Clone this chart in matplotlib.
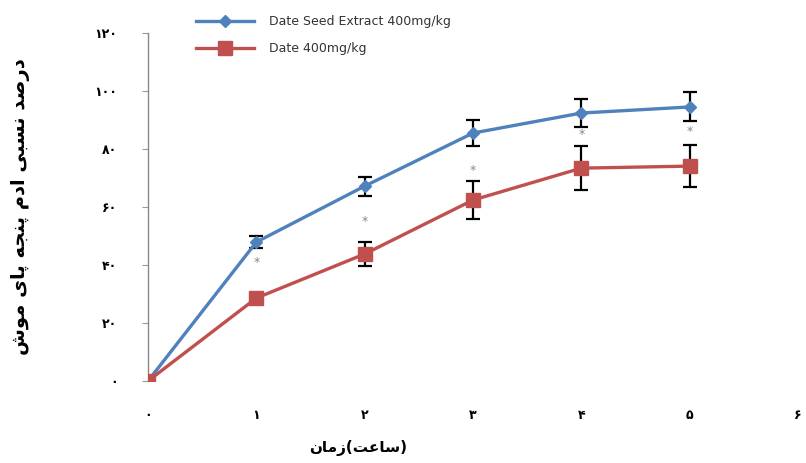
import matplotlib
matplotlib.use("Agg")
import matplotlib.pyplot as plt
from matplotlib.lines import Line2D

# ---------------- data ----------------
hours = [0, 1, 2, 3, 4, 5]
extract_vals = [0, 47.9, 67.2, 85.5, 92.4, 94.5]
extract_err = [0, 2.0, 3.3, 4.5, 4.8, 5.0]
date_vals = [0, 28.6, 43.8, 62.4, 73.4, 74.1]
date_err = [0, 1.2, 4.0, 6.4, 7.7, 7.3]
series_names = ["Date Seed Extract 400mg/kg", "Date 400mg/kg"]
x_ticks = [0, 1, 2, 3, 4, 5, 6]
y_ticks = [0, 20, 40, 60, 80, 100, 120]
star_hours = [1, 2, 3, 4, 5]
star_levels = [40.7, 55.0, 72.7, 85.0, 86.0]

# ------------- Persian shaping helpers -------------
FORMS = {
    'ا': (0xFE8D, 0xFE8E, None, None),
    'ب': (0xFE8F, 0xFE90, 0xFE91, 0xFE92),
    'ت': (0xFE95, 0xFE96, 0xFE97, 0xFE98),
    'ج': (0xFE9D, 0xFE9E, 0xFE9F, 0xFEA0),
    'د': (0xFEA9, 0xFEAA, None, None),
    'ر': (0xFEAD, 0xFEAE, None, None),
    'ز': (0xFEAF, 0xFEB0, None, None),
    'س': (0xFEB1, 0xFEB2, 0xFEB3, 0xFEB4),
    'ش': (0xFEB5, 0xFEB6, 0xFEB7, 0xFEB8),
    'ص': (0xFEB9, 0xFEBA, 0xFEBB, 0xFEBC),
    'ع': (0xFEC9, 0xFECA, 0xFECB, 0xFECC),
    'م': (0xFEE1, 0xFEE2, 0xFEE3, 0xFEE4),
    'ن': (0xFEE5, 0xFEE6, 0xFEE7, 0xFEE8),
    'ه': (0xFEE9, 0xFEEA, 0xFEEB, 0xFEEC),
    'و': (0xFEED, 0xFEEE, None, None),
    'پ': (0xFB56, 0xFB57, 0xFB58, 0xFB59),
    'ی': (0xFBFC, 0xFBFD, 0xFBFE, 0xFBFF),
}


def shape_word(w):
    out = []
    n = len(w)
    for i, ch in enumerate(w):
        if ch not in FORMS:
            out.append(ch)
            continue
        iso, fin, ini, med = FORMS[ch]
        prev = w[i - 1] if i > 0 else None
        nxt = w[i + 1] if i < n - 1 else None
        joins_prev = prev in FORMS and FORMS[prev][2] is not None
        joins_next = nxt in FORMS and ini is not None
        if joins_prev and joins_next:
            code = med
        elif joins_prev:
            code = fin
        elif joins_next:
            code = ini
        else:
            code = iso
        out.append(chr(code))
    return ''.join(reversed(out))


def rtl(sentence):
    return ' '.join(shape_word(w) for w in reversed(sentence.split(' ')))


def fa_digits(v):
    return ''.join(chr(0x06F0 + int(c)) for c in str(v))


ylabel = rtl("درصد نسبی ادم پنجه پای موش")
xlabel = shape_word("زمان") + "(" + shape_word("ساعت") + ")"

# ---------------- figure ----------------
plt.rcParams['font.family'] = ['DejaVu Sans']
fig = plt.figure(figsize=(8.06, 4.63), dpi=100)
ax = fig.add_axes([148 / 806, (463 - 381) / 463, 650 / 806, 348 / 463])

blue = '#4F81BD'
red = '#C0504D'

ax.errorbar(hours, extract_vals, yerr=extract_err, color=blue, lw=2.4,
            marker='D', ms=6, mfc=blue, mec=blue, ecolor='black',
            elinewidth=1.6, capsize=5, capthick=1.6, zorder=3)
ax.errorbar(hours, date_vals, yerr=date_err, color=red, lw=2.4,
            marker='s', ms=10, mfc=red, mec=red, ecolor='black',
            elinewidth=1.6, capsize=5, capthick=1.6, zorder=3)

for h, lvl in zip(star_hours, star_levels):
    ax.text(h, lvl, '*', ha='center', va='center', fontsize=9,
            color='#888888')

ax.set_xlim(0, 6)
ax.set_ylim(0, 120)
ax.set_xticks(x_ticks)
ax.set_xticklabels([fa_digits(v) for v in x_ticks], fontsize=9,
                   fontweight='bold')
ax.set_yticks(y_ticks)
ax.set_yticklabels([fa_digits(v) for v in y_ticks], fontsize=9,
                   fontweight='bold')
ax.tick_params(axis='x', length=0, pad=20)
ax.tick_params(axis='y', length=4, pad=18, color='#999999')

for s in ['top', 'right', 'bottom']:
    ax.spines[s].set_visible(False)
ax.spines['left'].set_color('#888888')
ax.spines['left'].set_linewidth(1.0)

ax.set_ylabel(ylabel, fontsize=14, fontweight='bold')
ax.yaxis.set_label_coords(-(148 - 30) / 650, 0.5)
ax.set_xlabel(xlabel, fontsize=11, fontweight='bold')
ax.xaxis.set_label_coords((358 - 148) / 650, -(440 - 381) / 348)

handles = [
    Line2D([], [], color=blue, lw=2.4, marker='D', ms=6),
    Line2D([], [], color=red, lw=2.4, marker='s', ms=10),
]
fig.legend(handles, series_names, loc='upper left',
           bbox_to_anchor=(185 / 806, 1 - 4 / 463), frameon=False,
           fontsize=9, handlelength=4.6, handletextpad=1.2,
           labelspacing=1.1, labelcolor='#333333')

fig.savefig('out.png', dpi=100, facecolor='white')
